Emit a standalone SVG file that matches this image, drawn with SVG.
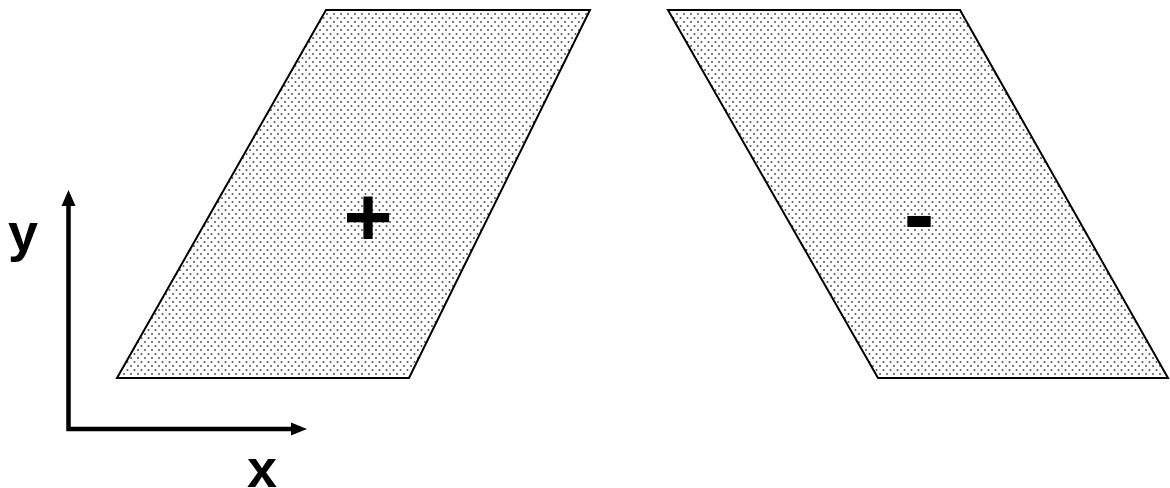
<svg xmlns="http://www.w3.org/2000/svg" width="1170" height="488" viewBox="0 0 1170 488">
<style>
.shape{fill:url(#dots);stroke:#000;stroke-width:2;stroke-linejoin:miter}
.lbl{font-family:"Liberation Sans",Arial,sans-serif;font-weight:bold;fill:#000}
.axis{stroke:#000;stroke-width:4.5;fill:none}
</style>
<defs>
<pattern id="dots" patternUnits="userSpaceOnUse" width="7" height="8">
<rect width="7" height="8" fill="#fff"/>
<circle cx="1.5" cy="2" r="1" fill="#555"/>
<circle cx="5" cy="6" r="1" fill="#555"/>
</pattern>
<marker id="arr" markerUnits="userSpaceOnUse" markerWidth="16" markerHeight="14" refX="15" refY="7" orient="auto">
<path d="M0,0 L16,7 L0,14 Z" fill="#000"/>
</marker>
</defs>
<g id="node-plus">
<polygon class="shape" points="326,10 590,10 409,378 117,378"/>
<text class="lbl" x="368" y="246" font-size="84" text-anchor="middle">+</text>
</g>
<g id="node-minus">
<polygon class="shape" points="668,10 960,10 1168,378 878,378"/>
<text class="lbl" x="919" y="246" font-size="92" text-anchor="middle">-</text>
</g>
<g id="axes">
<polyline class="axis" points="68.5,195 68.5,429 300,429" />
<path d="M68.5,190 L61.5,206 L75.5,206 Z" fill="#000"/>
<path d="M307,429 L291,422.5 L291,435.5 Z" fill="#000"/>
</g>
<text class="lbl" x="23" y="251" font-size="54" text-anchor="middle">y</text>
<text class="lbl" x="262" y="487" font-size="54" text-anchor="middle">x</text>
</svg>
